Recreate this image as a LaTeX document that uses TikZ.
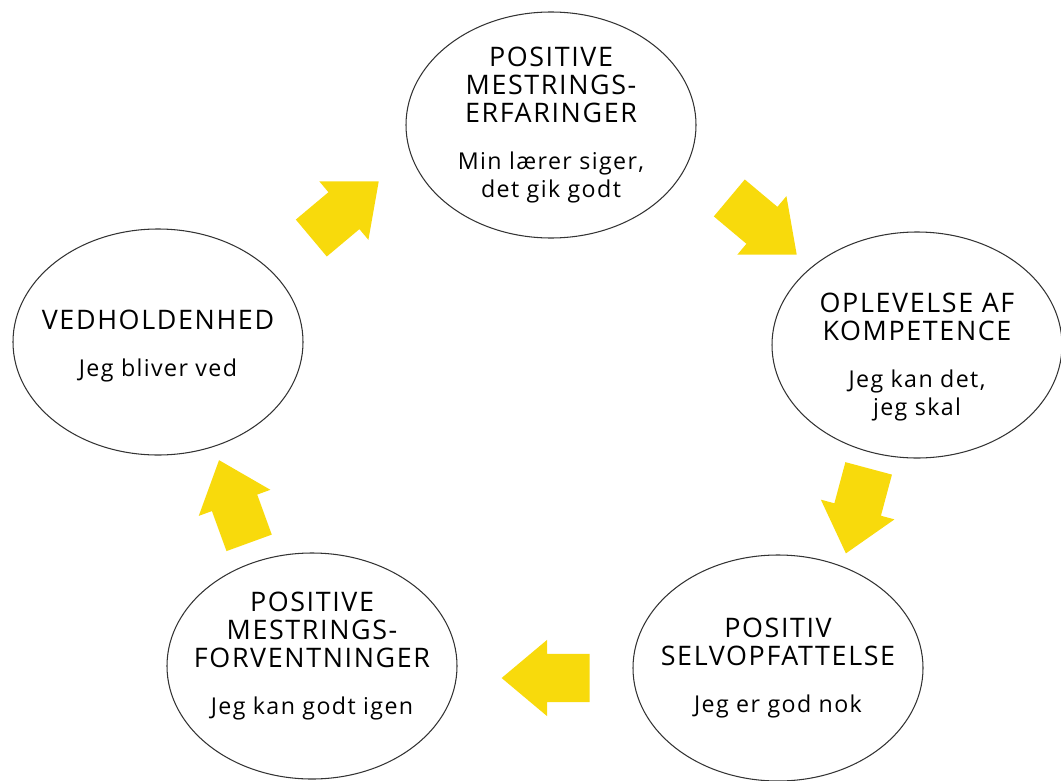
\documentclass[tikz,border=0pt]{standalone}
\usepackage{fontspec}
\setmainfont{Open Sans}[LetterSpace=6]
\usepackage{xcolor}
\usepackage{tikz}
\usetikzlibrary{shapes.geometric, shapes.arrows}
\definecolor{arrowyellow}{RGB}{248,218,12}
\newcommand{\headfont}{\fontsize{15.3}{16}\selectfont}
\newcommand{\quotefont}{\fontsize{13.2}{15.3}\selectfont}
\tikzset{
  stage/.style={ellipse, draw=black!80, line width=0.6pt, minimum width=5.8cm, minimum height=4.52cm, inner sep=0pt},
  stagetext/.style={align=center, inner sep=0pt, font=\headfont},
  flow/.style={single arrow, fill=arrowyellow, draw=none, minimum height=1.76cm, single arrow head extend=0.28cm, single arrow tip angle=80, inner xsep=0pt, inner ysep=0.475cm}
}

\begin{document}
\begin{tikzpicture}
            \useasboundingbox (0,0) rectangle (21.22,-15.62);
            \node[stage](erfaring) at (11.02,-2.5) {};
            \node[stage](kompetence) at (18.34,-6.9) {};
            \node[stage](selvopfattelse) at (15.56,-13.36) {};
            \node[stage](forventning) at (6.24,-13.32) {};
            \node[stage](vedholdenhed) at (3.16,-6.84) {};
            \node[stagetext](erfaring-txt) at (erfaring.center) {POSITIVE\\MESTRINGS-\\ERFARINGER\\[11pt]\quotefont Min lærer siger,\\\quotefont det gik godt};
            \node[stagetext, yshift=-0.24cm](kompetence-txt) at (kompetence.center) {OPLEVELSE AF\\KOMPETENCE\\[11pt]\quotefont Jeg kan det,\\\quotefont jeg skal};
            \node[stagetext](selvopfattelse-txt) at (selvopfattelse.center) {POSITIV\\SELVOPFATTELSE\\[11pt]\quotefont Jeg er god nok};
            \node[stagetext, yshift=0.2cm](forventning-txt) at (forventning.center) {POSITIVE\\MESTRINGS-\\FORVENTNINGER\\[11pt]\quotefont Jeg kan godt igen};
            \node[stagetext, yshift=-0.08cm](vedholdenhed-txt) at (vedholdenhed.center) {VEDHOLDENHED\\[11pt]\quotefont Jeg bliver ved};
            \node[flow, rotate=40](pil1) at (6.68,-4.38) {};
            \node[flow, rotate=-40](pil2) at (15.04,-4.34) {};
            \node[flow, rotate=-105](pil3) at (17.22,-9.94) {};
            \node[flow, rotate=180](pil4) at (11.2,-13.56) {};
            \node[flow, rotate=110](pil5) at (4.78,-10.30) {};
        \end{tikzpicture}
\end{document}
